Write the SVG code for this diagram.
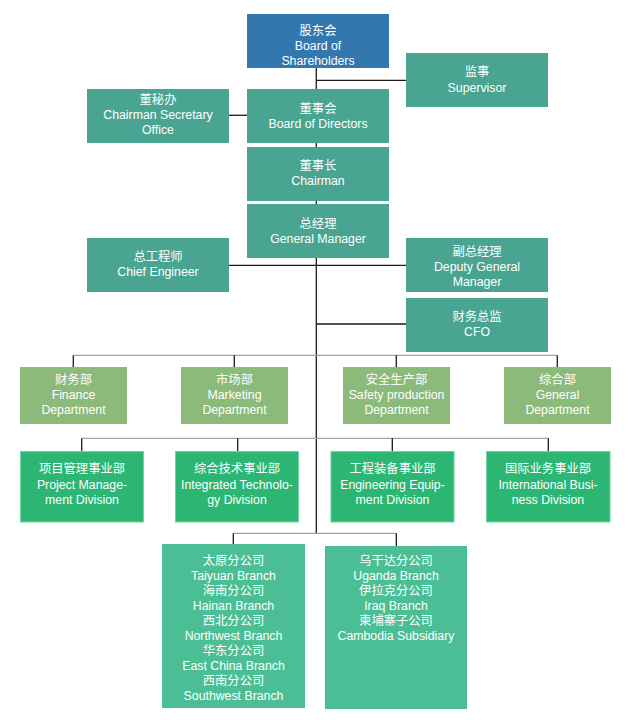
<svg xmlns="http://www.w3.org/2000/svg" width="634" height="720" viewBox="0 0 634 720">
<style>
text{font-family:"Liberation Sans","Noto Sans CJK SC",Arial,sans-serif;font-size:12.3px;fill:#fff;text-anchor:middle;dominant-baseline:central}
.blue{fill:#3277ad}
.teal{fill:#49a491}
.dept{fill:#8bba7a}
.div{fill:#2bb673;stroke:#74d1a3;stroke-width:1}
.br{fill:#4bbe95}
.k{stroke:#1a1a1a;stroke-width:1.3;fill:none}
.g{stroke:#a3a3a3;stroke-width:1.3;fill:none}
</style>
<rect width="634" height="720" fill="#fff"/>
<g id="connectors">
<path class="k" d="M316.3 68V533.3"/>
<path class="k" d="M316.3 80.3H406"/>
<path class="k" d="M229 115.3H247"/>
<path class="k" d="M229 265.3H406"/>
<path class="k" d="M316.3 324H406"/>
<path class="g" d="M73.3 355.3H557.3"/>
<path class="k" d="M73.3 355.3V367M234.3 355.3V367M396.3 355.3V367M557.3 355.3V367"/>
<path class="g" d="M81.7 438.3H548.3"/>
<path class="k" d="M81.7 438.3V451M237.7 438.3V451M392.3 438.3V451M548.3 438.3V451"/>
<path class="g" d="M233.3 533.3H396.3"/>
<path class="k" d="M233.3 533.3V544M396.3 533.3V546"/>
</g>
<g id="shareholders"><rect class="blue" x="247" y="14" width="142" height="54"/><text x="318" y="31">股东会</text><text x="318" y="46">Board of</text><text x="318" y="61">Shareholders</text></g>
<g id="supervisor"><rect class="teal" x="406" y="53" width="142" height="54"/><text x="477" y="72">监事</text><text x="477" y="87.5">Supervisor</text></g>
<g id="secretary"><rect class="teal" x="87" y="89" width="142" height="54"/><text x="158" y="99.5">董秘办</text><text x="158" y="114.5">Chairman Secretary</text><text x="158" y="129.5">Office</text></g>
<g id="board"><rect class="teal" x="247" y="89" width="142" height="54"/><text x="318" y="108.5">董事会</text><text x="318" y="123.5">Board of Directors</text></g>
<g id="chairman"><rect class="teal" x="247" y="147" width="142" height="54"/><text x="318" y="166">董事长</text><text x="318" y="181.3">Chairman</text></g>
<g id="gm"><rect class="teal" x="247" y="204" width="142" height="54"/><text x="318" y="224.3">总经理</text><text x="318" y="239.3">General Manager</text></g>
<g id="chief-engineer"><rect class="teal" x="87" y="238" width="142" height="54"/><text x="158" y="257">总工程师</text><text x="158" y="272.3">Chief Engineer</text></g>
<g id="deputy-gm"><rect class="teal" x="406" y="238" width="142" height="54"/><text x="477" y="251.7">副总经理</text><text x="477" y="266.7">Deputy General</text><text x="477" y="281.7">Manager</text></g>
<g id="cfo"><rect class="teal" x="406" y="298" width="142" height="54"/><text x="477" y="317.3">财务总监</text><text x="477" y="332.3">CFO</text></g>
<g id="finance"><rect class="dept" x="20" y="367" width="107" height="57"/><text x="73.5" y="380">财务部</text><text x="73.5" y="394.7">Finance</text><text x="73.5" y="409.7">Department</text></g>
<g id="marketing"><rect class="dept" x="181" y="367" width="107" height="57"/><text x="234.5" y="380">市场部</text><text x="234.5" y="394.7">Marketing</text><text x="234.5" y="409.7">Department</text></g>
<g id="safety"><rect class="dept" x="343" y="367" width="107" height="57"/><text x="396.5" y="380">安全生产部</text><text x="396.5" y="394.7">Safety production</text><text x="396.5" y="409.7">Department</text></g>
<g id="general"><rect class="dept" x="504" y="367" width="107" height="57"/><text x="557.5" y="380">综合部</text><text x="557.5" y="394.7">General</text><text x="557.5" y="409.7">Department</text></g>
<g id="project"><rect class="div" x="20.5" y="451.5" width="123" height="70.5"/><text x="82" y="469">项目管理事业部</text><text x="82" y="484.5">Project Manage-</text><text x="82" y="499.5">ment Division</text></g>
<g id="integrated"><rect class="div" x="175.5" y="451.5" width="123" height="70.5"/><text x="237" y="469">综合技术事业部</text><text x="237" y="484.5">Integrated Technolo-</text><text x="237" y="499.5">gy Division</text></g>
<g id="engineering"><rect class="div" x="331" y="451.5" width="123" height="70.5"/><text x="392.5" y="469">工程装备事业部</text><text x="392.5" y="484.5">Engineering Equip-</text><text x="392.5" y="499.5">ment Division</text></g>
<g id="international"><rect class="div" x="486.5" y="451.5" width="123.5" height="70.5"/><text x="548" y="469">国际业务事业部</text><text x="548" y="484.5">International Busi-</text><text x="548" y="499.5">ness Division</text></g>
<g id="domestic-branches"><rect class="br" x="162" y="544" width="143" height="164"/>
<text x="233.5" y="560.7">太原分公司</text><text x="233.5" y="575.7">Taiyuan Branch</text><text x="233.5" y="590.7">海南分公司</text><text x="233.5" y="605.7">Hainan Branch</text><text x="233.5" y="620.7">西北分公司</text><text x="233.5" y="635.7">Northwest Branch</text><text x="233.5" y="650.7">华东分公司</text><text x="233.5" y="665.7">East China Branch</text><text x="233.5" y="680.7">西南分公司</text><text x="233.5" y="695.7">Southwest Branch</text></g>
<g id="overseas-branches"><rect class="br" x="325" y="546" width="142" height="163"/>
<text x="396" y="560.7">乌干达分公司</text><text x="396" y="575.7">Uganda Branch</text><text x="396" y="590.7">伊拉克分公司</text><text x="396" y="605.7">Iraq Branch</text><text x="396" y="620.7">柬埔寨子公司</text><text x="396" y="635.7">Cambodia Subsidiary</text></g>
</svg>
